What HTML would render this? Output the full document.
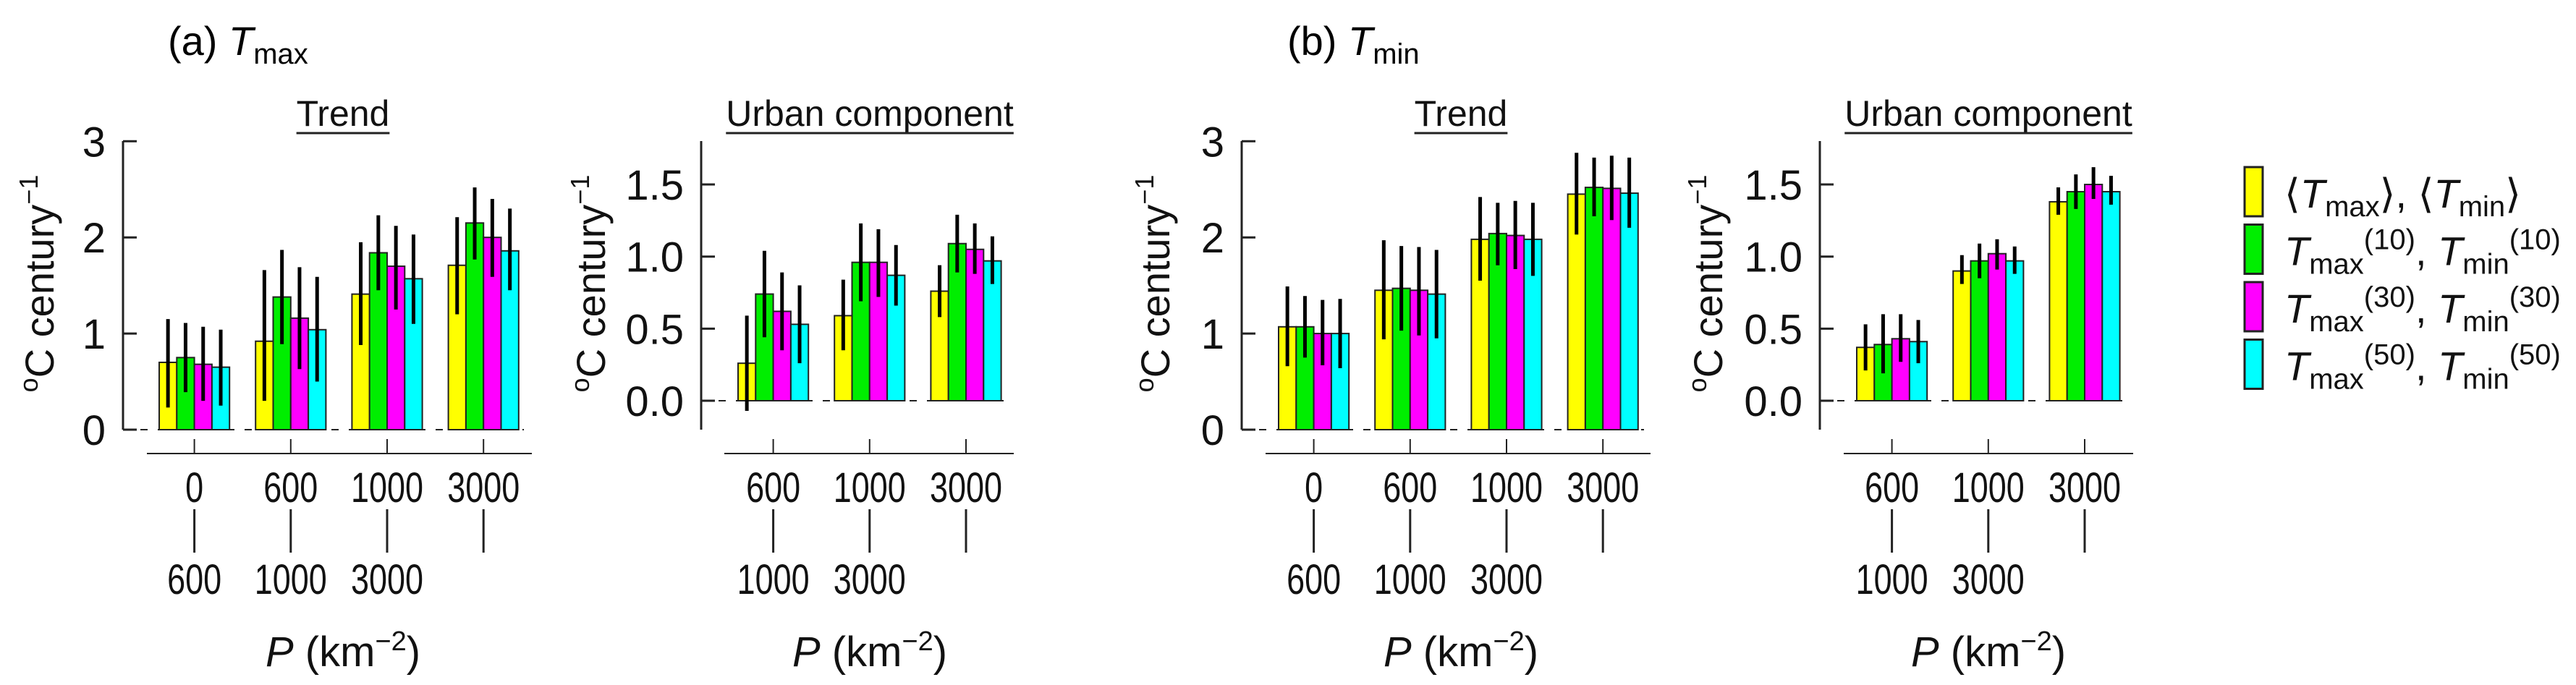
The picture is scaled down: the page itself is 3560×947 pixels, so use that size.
<!DOCTYPE html>
<html><head><meta charset="utf-8"><style>
html,body{margin:0;padding:0;background:#fff;}
svg{display:block;font-family:"Liberation Sans",Arial,sans-serif;}
</style></head><body>
<svg id="chart" width="3560" height="947" viewBox="0 0 3560 947" xmlns="http://www.w3.org/2000/svg">
<text x="232" y="76" font-size="56">(a) <tspan font-style="italic">T</tspan><tspan font-size="40" dy="12">max</tspan></text>
<text x="1779" y="76" font-size="56">(b) <tspan font-style="italic">T</tspan><tspan font-size="40" dy="12">min</tspan></text>
<g id="legend"></g>
</svg>
<script>
const categoriesTrend = [["0","600"],["600","1000"],["1000","3000"],["3000",""]];
const categoriesUrban = [["600","1000"],["1000","3000"],["3000",""]];
const seriesNames = ["mean","w10","w30","w50"];
const colors = ["#ffff00","#00ee00","#ff00ff","#00ffff"];
const ticksTrend = ["0","1","2","3"];
const ticksUrban = ["0.0","0.5","1.0","1.5"];
const aTrendVal = [[0.70,0.92,1.41,1.71],[0.75,1.38,1.84,2.15],[0.68,1.16,1.70,2.00],[0.65,1.04,1.57,1.86]];
const aTrendLo  = [[0.23,0.30,0.88,1.20],[0.39,0.89,1.45,1.77],[0.30,0.63,1.25,1.59],[0.25,0.50,1.10,1.45]];
const aTrendHi  = [[1.15,1.66,1.95,2.21],[1.11,1.87,2.23,2.52],[1.07,1.69,2.12,2.40],[1.04,1.59,2.03,2.30]];
const aUrbVal = [[0.26,0.59,0.76],[0.74,0.96,1.09],[0.62,0.96,1.05],[0.53,0.87,0.97]];
const aUrbLo  = [[-0.07,0.35,0.58],[0.44,0.69,0.89],[0.35,0.72,0.88],[0.26,0.66,0.81]];
const aUrbHi  = [[0.59,0.84,0.94],[1.04,1.23,1.29],[0.89,1.19,1.23],[0.80,1.08,1.14]];
const bTrendVal = [[1.07,1.45,1.98,2.45],[1.07,1.47,2.04,2.52],[1.00,1.45,2.02,2.51],[1.00,1.41,1.98,2.46]];
const bTrendLo  = [[0.66,0.94,1.55,2.03],[0.75,1.03,1.71,2.22],[0.67,0.98,1.67,2.18],[0.64,0.95,1.60,2.10]];
const bTrendHi  = [[1.49,1.97,2.42,2.88],[1.39,1.91,2.36,2.83],[1.35,1.90,2.38,2.85],[1.36,1.87,2.36,2.83]];
const bUrbVal = [[0.37,0.90,1.38],[0.39,0.97,1.45],[0.43,1.02,1.50],[0.41,0.97,1.45]];
const bUrbLo  = [[0.21,0.81,1.29],[0.19,0.85,1.33],[0.27,0.91,1.40],[0.26,0.88,1.36]];
const bUrbHi  = [[0.53,1.01,1.48],[0.60,1.09,1.57],[0.60,1.12,1.62],[0.56,1.07,1.56]];

const NS="http://www.w3.org/2000/svg";
const svg=document.getElementById('chart');
function mk(tag,attrs,parent){const e=document.createElementNS(NS,tag);for(const k in attrs)e.setAttribute(k,attrs[k]);(parent||svg).appendChild(e);return e;}

function panel(o){
  const g=mk('g',{});
  
  
  const y=v=>o.y0-v*o.ppu;
  const ax=mk('line',{x1:o.ax,x2:o.ax,y1:195,y2:594,stroke:'#222','stroke-width':3},g);
  
  
  o.ticks.forEach((t,i)=>{
    const yy=y(o.tickVals[i]);
    mk('line',{x1:o.ax,x2:o.ax+19,y1:yy,y2:yy,stroke:'#222','stroke-width':3},g);
    const tl=mk('text',{x:o.ax-24,y:yy+21,'font-size':58,'text-anchor':'end',fill:'#111'},g);
    tl.textContent=t;
    
    
  });
  mk('line',{x1:o.ax,x2:o.dashEnd,y1:y(0),y2:y(0),stroke:'#222','stroke-width':2,'stroke-dasharray':'10,14'},g);
  const bw=24.3;
  o.cats.forEach((c,ci)=>{
    const gx=o.g0+ci*133.2;
    for(let s=0;s<4;s++){
      const v=o.val[s][ci];
      const x=gx+s*bw;
      const r=mk('rect',{x:x,y:Math.min(y(v),y(0)),width:bw,height:Math.abs(y(0)-y(v)),fill:colors[s],stroke:'#222','stroke-width':2},g);
      
      
      const e=mk('line',{x1:x+bw/2,x2:x+bw/2,y1:y(o.lo[s][ci]),y2:y(o.hi[s][ci]),stroke:'#000','stroke-width':5},g);
      
      
    }
    const cx=gx+2*bw;
    mk('line',{x1:cx,x2:cx,y1:607,y2:627,stroke:'#222','stroke-width':2},g);
    const t1=mk('text',{x:cx,y:694,'font-size':58,'text-anchor':'middle',fill:'#111',textLength:c[0].length*25,lengthAdjust:'spacingAndGlyphs'},g);
    t1.textContent=c[0];
    
    
    mk('line',{x1:cx,x2:cx,y1:704,y2:764,stroke:'#222','stroke-width':3},g);
    if(c[1]){const t2=mk('text',{x:cx,y:821,'font-size':58,'text-anchor':'middle',fill:'#111',textLength:c[1].length*25,lengthAdjust:'spacingAndGlyphs'},g);t2.textContent=c[1];
      
      }
  });
  mk('line',{x1:o.lx1,x2:o.lx2,y1:627,y2:627,stroke:'#222','stroke-width':2},g);
  const tt=mk('text',{x:o.tc,y:174,'font-size':50,'text-anchor':'middle',fill:'#111'},g);
  tt.textContent=o.title;
  
  
  const bb=tt.getBBox();
  mk('line',{x1:bb.x,x2:bb.x+bb.width,y1:184,y2:184,stroke:'#222','stroke-width':3},g);
  const yl=mk('text',{transform:`translate(${o.ylx},392) rotate(-90)`,'font-size':56,'text-anchor':'middle',fill:'#111'},g);
  yl.innerHTML='<tspan font-size="36" dy="-22">o</tspan><tspan dy="22">C century</tspan><tspan font-size="36" dy="-22">−1</tspan>';
  
  
  const xl=mk('text',{x:o.tc,y:921,'font-size':58,'text-anchor':'middle',fill:'#111'},g);
  xl.innerHTML='<tspan font-style="italic">P</tspan> (km<tspan font-size="38" dy="-22">−2</tspan><tspan dy="22">)</tspan>';
  
  
}
panel({name:'panel-a-trend',ax:170,y0:594,ppu:132.9,ticks:ticksTrend,tickVals:[0,1,2,3],dashEnd:724,g0:220,cats:categoriesTrend,val:aTrendVal,lo:aTrendLo,hi:aTrendHi,lx1:203,lx2:735,tc:474,title:'Trend',ylx:74});
panel({name:'panel-a-urban',ax:969,y0:554,ppu:199.3,ticks:ticksUrban,tickVals:[0,0.5,1,1.5],dashEnd:1395,g0:1020,cats:categoriesUrban,val:aUrbVal,lo:aUrbLo,hi:aUrbHi,lx1:1001,lx2:1401,tc:1202,title:'Urban component',ylx:836});
panel({name:'panel-b-trend',ax:1716,y0:594,ppu:132.9,ticks:ticksTrend,tickVals:[0,1,2,3],dashEnd:2272,g0:1767,cats:categoriesTrend,val:bTrendVal,lo:bTrendLo,hi:bTrendHi,lx1:1749,lx2:2281,tc:2019,title:'Trend',ylx:1616});
panel({name:'panel-b-urban',ax:2515,y0:554,ppu:199.3,ticks:ticksUrban,tickVals:[0,0.5,1,1.5],dashEnd:2940,g0:2566,cats:categoriesUrban,val:bUrbVal,lo:bUrbLo,hi:bUrbHi,lx1:2548,lx2:2948,tc:2748,title:'Urban component',ylx:2380});

const lg=document.getElementById('legend');
const legendSups=["","(10)","(30)","(50)"];
for(let i=0;i<4;i++){
  const yT=231+i*79.5;
  const r=mk('rect',{x:3102,y:yT,width:25,height:68,fill:colors[i],stroke:'#222','stroke-width':3},lg);
  
  
  const t=mk('text',{x:3157,y:yT+56,'font-size':56,fill:'#111'},lg);
  
  
  if(i===0){
    t.innerHTML='⟨<tspan font-style="italic">T</tspan><tspan font-size="40" dy="12">max</tspan><tspan dy="-12">⟩, ⟨</tspan><tspan font-style="italic">T</tspan><tspan font-size="40" dy="12">min</tspan><tspan dy="-12">⟩</tspan>';
  } else {
    const s=legendSups[i];
    t.innerHTML='<tspan font-style="italic">T</tspan><tspan font-size="40" dy="12">max</tspan><tspan font-size="40" dy="-34">'+s+'</tspan><tspan dy="22">, </tspan><tspan font-style="italic">T</tspan><tspan font-size="40" dy="12">min</tspan><tspan font-size="40" dy="-34">'+s+'</tspan>';
  }
}
</script>
</body></html>
